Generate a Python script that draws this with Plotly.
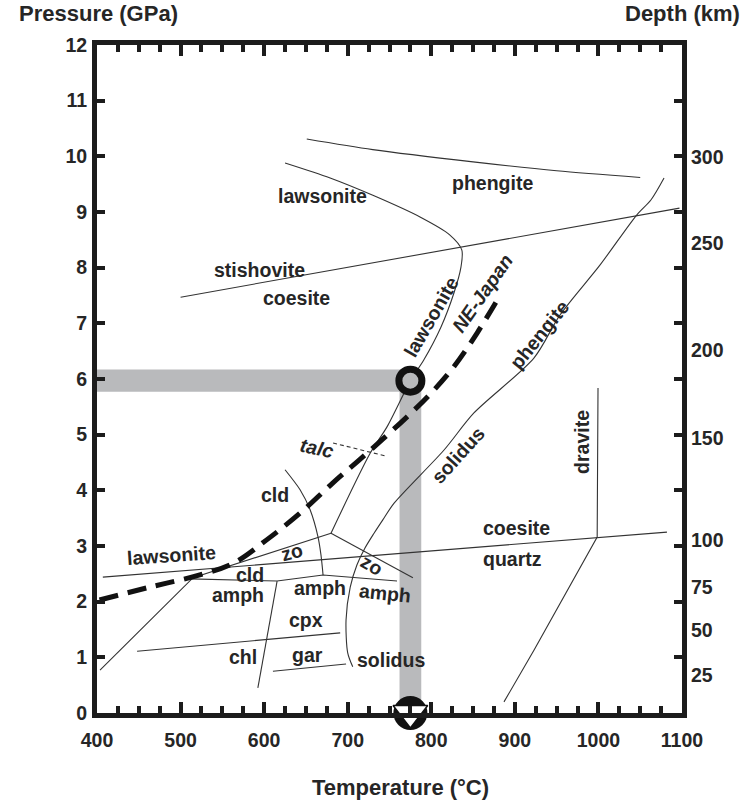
import plotly.graph_objects as go

# ---- Phase boundaries: temperature (°C) and pressure (GPa) ----
phengite_top_T = [651, 730, 850, 950, 1050]
phengite_top_P = [10.31, 10.12, 9.90, 9.74, 9.62]

lawsonite_T = [625, 679, 731.5, 786.5, 822, 836.5, 835.5, 827, 811.5, 791, 775.5, 747, 727, 680]
lawsonite_P = [9.88, 9.61, 9.29, 8.91, 8.59, 8.32, 8.01, 7.54, 6.93, 6.34, 5.98, 5.14, 4.67, 3.23]

stishovite_T = [500, 1097]
stishovite_P = [7.47, 9.07]

solidus_T = [1078.5, 1063, 1046, 1002, 954, 923, 851, 815, 755.5, 742, 731.5, 720.5, 711, 703, 698, 700, 706]
solidus_P = [9.61, 9.22, 8.95, 8.05, 7.15, 6.38, 5.39, 4.72, 3.77, 3.47, 3.23, 2.96, 2.66, 2.26, 1.67, 1.08, 0.83]

coesite_quartz_T = [407, 1082]
coesite_quartz_P = [2.44, 3.25]

lawsonite_zo_T = [403.6, 515, 680]
lawsonite_zo_P = [0.77, 2.43, 3.23]

amph_T = [511, 615.5, 670.5, 759]
amph_P = [2.41, 2.37, 2.48, 2.37]

cld_T = [625, 643, 655, 664.5, 668, 670.5]
cld_P = [4.37, 4.01, 3.65, 3.16, 2.84, 2.48]

zo_T = [680, 778]
zo_P = [3.23, 2.43]

chl_T = [615.5, 592.5]
chl_P = [2.37, 0.45]

cpx_T = [448, 691]
cpx_P = [1.11, 1.44]

gar_T = [610.5, 698]
gar_P = [0.75, 0.88]

dravite_T = [999.5, 998.5, 923, 887]
dravite_P = [5.84, 3.16, 1.13, 0.20]

talc_T = [682.5, 744.5]
talc_P = [4.85, 4.62]

# NE-Japan slab-surface geotherm
ne_japan_T = [403, 463, 523, 563, 603, 643, 682, 727, 771, 800, 827, 855, 879]
ne_japan_P = [2.03, 2.26, 2.48, 2.69, 3.11, 3.59, 4.13, 4.72, 5.32, 5.75, 6.22, 6.83, 7.42]

# Peak P-T estimate and its uncertainty
peak_T, peak_P = 775, 5.97
peak_dT, peak_dP = 13, 0.2

# Depth scale (km) on the right-hand axis, at equivalent pressures (GPa)
depth_km = [25, 50, 75, 100, 150, 200, 250, 300]
depth_P = [0.68, 1.49, 2.26, 3.11, 4.94, 6.52, 8.44, 9.99]

# Field labels: text, T, P, rotation, italic
labels = [
    ("lawsonite", 670.4, 9.29, 0, False),
    ("phengite", 872.7, 9.52, 0, False),
    ("stishovite", 595, 7.96, 0, False),
    ("coesite", 639.3, 7.45, 0, False),
    ("lawsonite", 799.7, 7.11, -60, False),
    ("NE-Japan", 861, 7.55, -55, True),
    ("phengite", 928.9, 6.79, -51, False),
    ("solidus", 832, 4.63, -48, False),
    ("dravite", 980.4, 4.87, -90, False),
    ("talc", 663.3, 4.76, 12, True),
    ("cld", 613, 3.92, 0, False),
    ("lawsonite", 489.7, 2.84, -4, False),
    ("zo", 633.3, 2.89, -15, False),
    ("cld", 583, 2.48, 0, False),
    ("amph", 568.7, 2.12, 0, False),
    ("amph", 666.8, 2.25, 0, False),
    ("zo", 729, 2.66, 30, False),
    ("amph", 744.6, 2.16, 6, False),
    ("coesite", 901.4, 3.32, 0, False),
    ("quartz", 896.6, 2.77, 0, False),
    ("cpx", 650, 1.67, 0, False),
    ("chl", 574.7, 1.01, 0, False),
    ("gar", 651.3, 1.04, 0, False),
    ("solidus", 751.8, 0.95, 0, False),
]

INK = "#1c1c1c"
LINE = "#333333"
BAND = "#b9babc"
FONT = "Liberation Sans"

fig = go.Figure()


def boundary(T, P, smooth=False, dash=None, width=1.1):
    fig.add_trace(go.Scatter(
        x=T, y=P, mode="lines",
        line=dict(color=LINE, width=width, dash=dash,
                  shape="spline" if smooth else "linear", smoothing=0.8),
        hoverinfo="skip", showlegend=False))


boundary(phengite_top_T, phengite_top_P, smooth=True)
boundary(lawsonite_T, lawsonite_P, smooth=True)
boundary(stishovite_T, stishovite_P)
boundary(solidus_T, solidus_P, smooth=True)
boundary(coesite_quartz_T, coesite_quartz_P)
boundary(lawsonite_zo_T, lawsonite_zo_P)
boundary(amph_T, amph_P)
boundary(cld_T, cld_P, smooth=True)
boundary(zo_T, zo_P)
boundary(chl_T, chl_P)
boundary(cpx_T, cpx_P)
boundary(gar_T, gar_P)
boundary(dravite_T, dravite_P)
boundary(talc_T, talc_P, dash="4px,3px")

# geotherm
fig.add_trace(go.Scatter(
    x=ne_japan_T, y=ne_japan_P, mode="lines",
    line=dict(color="#111111", width=5, dash="19px,10px", shape="spline"),
    hoverinfo="skip", showlegend=False))

# uncertainty bands of the peak estimate
fig.add_shape(type="rect", layer="below", line_width=0, fillcolor=BAND,
              x0=400, x1=peak_T, y0=peak_P - peak_dP, y1=peak_P + peak_dP)
fig.add_shape(type="rect", layer="below", line_width=0, fillcolor=BAND,
              x0=peak_T - peak_dT, x1=peak_T + peak_dT, y0=0, y1=peak_P)

# peak P-T point
fig.add_trace(go.Scatter(
    x=[peak_T], y=[peak_P], mode="markers",
    marker=dict(symbol="circle", size=23, color=BAND,
                line=dict(color="#111111", width=7)),
    hoverinfo="skip", showlegend=False))

# temperature marker on the T axis
fig.add_trace(go.Scatter(
    x=[peak_T], y=[0], mode="markers", cliponaxis=False,
    marker=dict(symbol="circle", size=34, color="#111111", line=dict(width=0)),
    hoverinfo="skip", showlegend=False))
fig.add_trace(go.Scatter(
    x=[peak_T], y=[0], mode="markers", cliponaxis=False,
    marker=dict(symbol="triangle-down", size=30, color="white",
                line=dict(color="#111111", width=1.5)),
    hoverinfo="skip", showlegend=False))

# carrier trace for the depth axis
fig.add_trace(go.Scatter(x=[400], y=[0], yaxis="y2", mode="markers",
                         marker=dict(opacity=0), hoverinfo="skip", showlegend=False))

for text, T, P, ang, ital in labels:
    fig.add_annotation(
        x=T, y=P, text=f"<i>{text}</i>" if ital else text, showarrow=False,
        textangle=ang, font=dict(family=FONT, size=19.5, color="#262626", weight="bold"))

tickfont = dict(family=FONT, size=19.5, color="#262626", weight="bold")
titlefont = dict(family=FONT, size=22, color="#262626", weight="bold")

fig.update_layout(
    width=748, height=800,
    margin=dict(l=97, r=66, t=45, b=87),
    paper_bgcolor="white", plot_bgcolor="white",
    xaxis=dict(range=[400, 1100], tickvals=list(range(400, 1101, 100)),
               ticks="inside", ticklen=11, tickwidth=4, tickcolor=INK,
               showline=True, linewidth=5, linecolor=INK, mirror="ticks",
               showgrid=False, zeroline=False, tickfont=tickfont,
               ticklabelstandoff=6,
               minor=dict(tick0=400, dtick=25, ticks="inside", ticklen=7,
                          tickwidth=4, tickcolor=INK, showgrid=False)),
    yaxis=dict(range=[0, 12], dtick=1, ticks="inside", ticklen=8, tickwidth=4,
               tickcolor=INK, showline=True, linewidth=5, linecolor=INK,
               mirror="ticks", showgrid=False, zeroline=False, tickfont=tickfont,
               ticklabelstandoff=1),
    yaxis2=dict(range=[0, 12], overlaying="y", side="right", tickvals=depth_P,
                ticktext=[str(d) for d in depth_km], ticks="", showline=False,
                showgrid=False, zeroline=False, tickfont=tickfont,
                ticklabelstandoff=8),
)

fig.add_annotation(xref="paper", yref="paper", x=-97 / 585 + 17 / 585, y=1,
                   xanchor="left", yanchor="bottom", yshift=17,
                   text="Pressure (GPa)", showarrow=False, font=titlefont)
fig.add_annotation(xref="paper", yref="paper", x=1 + 60 / 585, y=1,
                   xanchor="right", yanchor="bottom", yshift=17,
                   text="Depth (km)", showarrow=False, font=titlefont)
fig.add_annotation(xref="paper", yref="paper", x=(400 - 97) / 585, y=0,
                   xanchor="center", yanchor="top", yshift=-60,
                   text="Temperature (°C)", showarrow=False, font=titlefont)

fig.write_html("out.html")
